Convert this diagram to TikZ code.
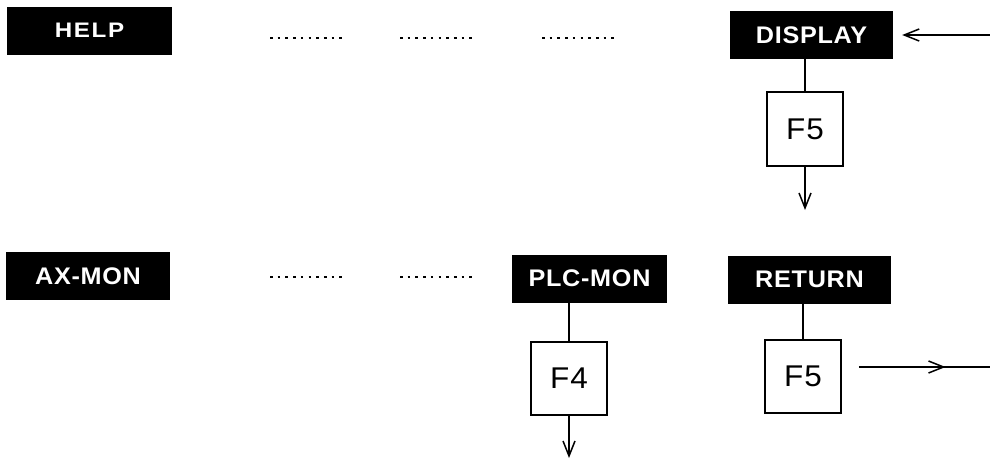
\documentclass[tikz,border=0pt]{standalone}
\usepackage{fontspec}
\newfontfamily\menufont[FakeStretch=1.05,LetterSpace=3]{Liberation Sans Bold}
\newfontfamily\helpfont[FakeStretch=1.15,LetterSpace=8]{Liberation Sans Bold}
\newfontfamily\keyfont[FakeStretch=1.05,LetterSpace=3]{Liberation Sans}
\usetikzlibrary{arrows.meta,decorations.markings}
\begin{document}
\begin{tikzpicture}[x=1pt,y=-1pt,
  menu/.style={fill=black,text=white,inner sep=0pt,font=\menufont\fontsize{24}{24}\selectfont,minimum width=#1,minimum height=48pt},
  key/.style={draw=black,line width=1.5pt,fill=white,inner sep=0pt,minimum width=76pt,minimum height=74pt,font=\keyfont\fontsize{30}{30}\selectfont},
  conn/.style={line width=1.5pt},
  tip/.style={-{Straight Barb[length=15pt,width=12pt,line width=1.5pt]}},
  dots/.style={line width=2.6pt,dash pattern=on 2.6pt off 5.1pt}
]
\useasboundingbox (0,0) rectangle (990,458);
% top row
\node[menu=165pt,font=\helpfont\fontsize{21}{21}\selectfont] (help) at (89.5,30.5) {HELP};
\node[menu=163pt] (display) at (811.5,35) {DISPLAY};
\node[key] (f5a) at (805,129) {F5};
\coordinate (inA) at (990,35);
\coordinate (outA) at (805,210);
\draw[dots] (270,38) -- (342,38);
\draw[dots] (400,38) -- (472,38);
\draw[dots] (542,38) -- (614,38);
\draw[conn] (f5a.north |- display.south) -- (f5a.north);
\draw[conn,tip] (f5a.south) -- (outA);
\draw[conn,tip,shorten >=9pt] (inA) -- (display.east);
% bottom row
\node[menu=164pt] (axmon) at (88,276) {AX-MON};
\node[menu=155pt] (plcmon) at (589.5,278.5) {PLC-MON};
\node[menu=163pt] (return) at (809.5,279.5) {RETURN};
\node[key,minimum height=73pt] (f4) at (569,378.5) {F4};
\node[key,minimum height=73pt] (f5b) at (803,376.5) {F5};
\coordinate (outB) at (569,458);
\coordinate (outC) at (990,367);
\draw[dots] (270,277) -- (342,277);
\draw[dots] (400,277) -- (472,277);
\draw[conn] (f4.north |- plcmon.south) -- (f4.north);
\draw[conn,tip] (f4.south) -- (outB);
\draw[conn] (f5b.north |- return.south) -- (f5b.north);
\draw[conn,shorten <=17pt,
  postaction={decorate},
  decoration={markings,mark=at position 0.70 with {\arrow{Straight Barb[length=15pt,width=12pt,line width=1.5pt]}}}]
  (f5b.east |- outC) -- (outC);
\end{tikzpicture}
\end{document}
